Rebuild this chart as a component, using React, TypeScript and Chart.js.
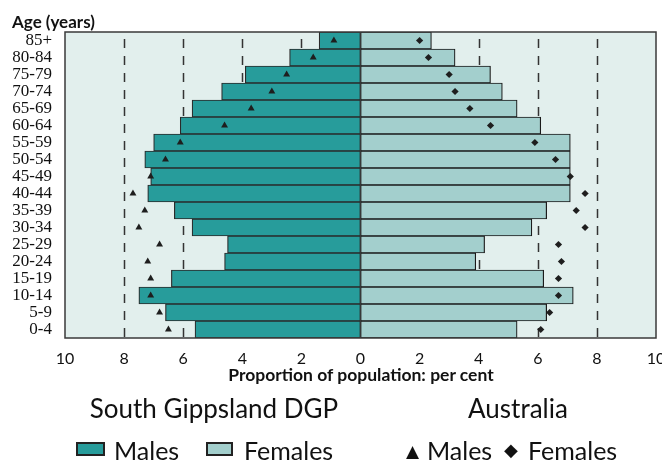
import React, { useEffect, useRef } from "react";
import { Chart, registerables } from "chart.js";

Chart.register(...registerables);

const ageGroups = ["85+", "80-84", "75-79", "70-74", "65-69", "60-64", "55-59", "50-54", "45-49", "40-44", "35-39", "30-34", "25-29", "20-24", "15-19", "10-14", "5-9", "0-4"];
const regionMales = [1.4, 2.4, 3.9, 4.7, 5.7, 6.1, 7.0, 7.3, 7.1, 7.2, 6.3, 5.7, 4.5, 4.6, 6.4, 7.5, 6.6, 5.6];
const regionFemales = [2.4, 3.2, 4.4, 4.8, 5.3, 6.1, 7.1, 7.1, 7.1, 7.1, 6.3, 5.8, 4.2, 3.9, 6.2, 7.2, 6.3, 5.3];
const australiaMales = [0.9, 1.6, 2.5, 3.0, 3.7, 4.6, 6.1, 6.6, 7.1, 7.7, 7.3, 7.5, 6.8, 7.2, 7.1, 7.1, 6.8, 6.5];
const australiaFemales = [2.0, 2.3, 3.0, 3.2, 3.7, 4.4, 5.9, 6.6, 7.1, 7.6, 7.3, 7.6, 6.7, 6.8, 6.7, 6.7, 6.4, 6.1];
const dashedGridValues = [-8, -6, -4, -2, 2, 4, 6, 8];

const MALE_COLOR = "#279c9b";
const FEMALE_COLOR = "#a3cfcd";
const PLOT_BG = "#e2efed";
const INK = "#1e1e1e";

const decorPlugin = {
  id: "decor",
  beforeDraw(chart: any) {
    const { ctx, chartArea: a } = chart;
    ctx.save();
    ctx.fillStyle = PLOT_BG;
    ctx.fillRect(a.left, a.top, a.right - a.left, a.bottom - a.top);
    ctx.restore();
  },
  beforeDatasetsDraw(chart: any) {
    const { ctx, chartArea: a, scales } = chart;
    ctx.save();
    ctx.strokeStyle = "#333";
    ctx.lineWidth = 1.5;
    ctx.setLineDash([9, 8]);
    ctx.lineDashOffset = -7;
    dashedGridValues.forEach((v) => {
      const x = Math.round(scales.x.getPixelForValue(v)) + 0.5;
      ctx.beginPath();
      ctx.moveTo(x, a.top);
      ctx.lineTo(x, a.bottom);
      ctx.stroke();
    });
    ctx.restore();
  },
  afterDatasetsDraw(chart: any) {
    const { ctx, chartArea: a } = chart;
    ctx.save();
    ctx.strokeStyle = "#3a3a3a";
    ctx.lineWidth = 1.5;
    ctx.strokeRect(a.left, a.top, a.right - a.left, a.bottom - a.top);
    ctx.restore();
  },
};

function PyramidChart() {
  const ref = useRef<HTMLCanvasElement>(null);
  useEffect(() => {
    if (!ref.current) return;
    const chart = new Chart(ref.current, {
      type: "bar",
      data: {
        labels: ageGroups,
        datasets: [
          {
            type: "line",
            label: "Australia Males",
            data: australiaMales.map((v) => -v),
            indexAxis: "y",
            showLine: false,
            pointStyle: "triangle",
            pointRadius: 4,
            pointBackgroundColor: INK,
            pointBorderColor: INK,
            pointBorderWidth: 0,
            order: 0,
          } as any,
          {
            type: "line",
            label: "Australia Females",
            data: australiaFemales,
            indexAxis: "y",
            showLine: false,
            pointStyle: "rectRot",
            pointRadius: 3.6,
            pointBackgroundColor: INK,
            pointBorderColor: INK,
            pointBorderWidth: 0,
            order: 0,
          } as any,
          {
            type: "bar",
            label: "Males",
            data: regionMales.map((v) => -v),
            backgroundColor: MALE_COLOR,
            borderColor: "#2a2a2a",
            borderWidth: 1.2,
            borderSkipped: false,
            barPercentage: 1,
            categoryPercentage: 1,
            grouped: false,
            order: 1,
          } as any,
          {
            type: "bar",
            label: "Females",
            data: regionFemales,
            backgroundColor: FEMALE_COLOR,
            borderColor: "#1a1a1a",
            borderWidth: 1.2,
            borderSkipped: false,
            barPercentage: 1,
            categoryPercentage: 1,
            grouped: false,
            order: 1,
          } as any,
        ],
      },
      options: {
        indexAxis: "y",
        animation: false,
        responsive: true,
        maintainAspectRatio: false,
        layout: { padding: { left: 12, right: 6, top: 32, bottom: 83 } },
        plugins: {
          legend: { display: false },
          tooltip: { enabled: false },
        },
        scales: {
          x: {
            type: "linear",
            min: -10,
            max: 10,
            afterFit: (scale: any) => {
              scale.paddingLeft = 0;
              scale.paddingRight = 0;
              scale.height = 40;
            },
            ticks: {
              stepSize: 2,
              color: "#111",
              font: { family: "Lato", size: 16 },
              padding: 11,
              callback: (v: any) => String(Math.abs(Number(v))),
            },
            grid: { display: false, drawTicks: false },
            border: { display: false },
          },
          y: {
            type: "category",
            afterFit: (scale: any) => {
              scale.width = 53;
            },
            ticks: {
              color: "#111",
              font: { family: "Liberation Serif", size: 17 },
              padding: 13,
              autoSkip: false,
            },
            grid: { display: false, drawTicks: false },
            border: { display: false },
          },
        },
      },
      plugins: [decorPlugin],
    });
    return () => chart.destroy();
  }, []);
  return <canvas ref={ref} />;
}

const textBase: React.CSSProperties = {
  position: "absolute",
  fontFamily: "Lato, sans-serif",
  fontSize: 25,
  lineHeight: "30px",
  color: "#111",
  whiteSpace: "nowrap",
};

const boxBase: React.CSSProperties = {
  position: "absolute",
  height: 10,
  border: "2px solid #222",
};

export default function App() {
  return (
    <div style={{ position: "absolute", left: 0, top: 0, width: 662, height: 461, background: "#fff", overflow: "hidden" }}>
      <div style={{ position: "absolute", left: 0, top: 0, width: 662, height: 461 }}>
        <PyramidChart />
      </div>
      <div style={{ ...textBase, left: 12, top: 12, fontSize: 17, lineHeight: "20px", fontWeight: "bold" }}>Age (years)</div>
      <div style={{ ...textBase, left: 161, width: 400, top: 364, fontSize: 17.5, lineHeight: "21px", fontWeight: "bold", textAlign: "center" }}>Proportion of population: per cent</div>
      <div style={{ ...textBase, left: 0, width: 428, top: 393, fontSize: 26, textAlign: "center" }}>South Gippsland DGP</div>
      <div style={{ ...textBase, left: 418, width: 200, top: 393, fontSize: 26, textAlign: "center" }}>Australia</div>
      <div style={{ ...boxBase, left: 76, top: 442, width: 25, background: MALE_COLOR }} />
      <div style={{ ...textBase, left: 114, top: 435 }}>Males</div>
      <div style={{ ...boxBase, left: 206, top: 442, width: 23, background: FEMALE_COLOR }} />
      <div style={{ ...textBase, left: 244, top: 435 }}>Females</div>
      <div style={{ ...textBase, left: 406, top: 436, fontSize: 17, fontFamily: "DejaVu Sans" }}>▲</div>
      <div style={{ ...textBase, left: 427, top: 435 }}>Males</div>
      <div style={{ ...textBase, left: 504, top: 435, fontSize: 18, fontFamily: "DejaVu Sans" }}>◆</div>
      <div style={{ ...textBase, left: 528, top: 435 }}>Females</div>
    </div>
  );
}
